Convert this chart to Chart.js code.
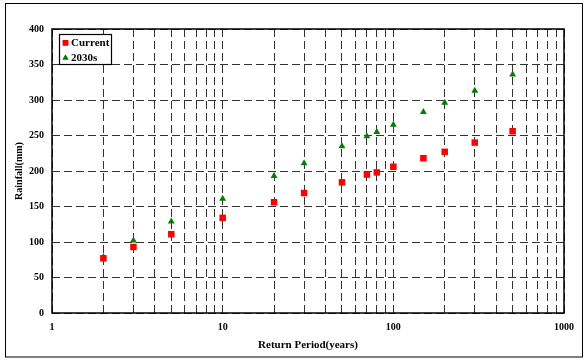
<!DOCTYPE html>
<html>
<head>
<meta charset="utf-8">
<script src="https://cdn.jsdelivr.net/npm/chart.js@4.4.1/dist/chart.umd.min.js"></script>
<style>
html,body{margin:0;padding:0;background:#fff;}
#wrap{width:584px;height:361px;position:relative;}
</style>
</head>
<body>
<div id="wrap"><canvas id="c" width="584" height="361"></canvas></div>
<script>
const returnPeriods = [2, 3, 5, 10, 20, 30, 50, 70, 80, 100, 150, 200, 300, 500];
const currentRain = [77, 93, 111, 134, 156, 169, 184, 195, 198, 206, 218, 227, 240, 256];
const rain2030s = [79, 102, 129, 161, 193, 211, 235, 249, 255, 265, 283, 296, 313, 336];
const seriesNames = ['Current', '2030s'];
const xLabelValues = [1, 10, 100, 1000];
const yTicks = [0, 50, 100, 150, 200, 250, 300, 350, 400];

const serif = "'Liberation Serif','DejaVu Serif',serif";

function pts(xs, ys) { return xs.map((x, i) => ({x: x, y: ys[i]})); }

const framePlugin = {
  id: 'frame',
  afterDraw(chart) {
    const ctx = chart.ctx;
    const a = chart.chartArea;
    ctx.save();
    ctx.strokeStyle = '#000';
    ctx.lineWidth = 1.5;
    ctx.strokeRect(a.left, a.top, a.right - a.left, a.bottom - a.top);
    ctx.lineWidth = 1;
    ctx.strokeRect(5.5, 3.5, 577, 353.5);
    // legend box inside plot area
    const lx = a.left + 7, ly = a.top + 5;
    ctx.fillStyle = '#fff';
    ctx.fillRect(lx, ly, 52, 30);
    ctx.lineWidth = 1.2;
    ctx.strokeRect(lx + 0.5, ly + 0.5, 52, 30);
    ctx.font = "bold 11px " + serif;
    ctx.textBaseline = 'middle';
    ctx.textAlign = 'left';
    chart.data.datasets.forEach((ds, i) => {
      const cy = ly + 8.8 + i * 15;
      const cx = lx + 6.5;
      ctx.fillStyle = ds.backgroundColor;
      Chart.helpers.drawPoint(ctx, {pointStyle: ds.pointStyle, radius: ds.pointRadius * 0.85, rotation: 0, borderWidth: 0}, cx, cy);
      ctx.fill();
      ctx.fillStyle = '#000';
      ctx.fillText(ds.label, lx + 12, cy + 0.5);
    });
    ctx.restore();
  }
};

new Chart(document.getElementById('c'), {
  type: 'scatter',
  data: {
    datasets: [
      {
        label: seriesNames[0],
        data: pts(returnPeriods, currentRain),
        pointStyle: 'rect',
        backgroundColor: '#ff0000',
        borderColor: '#ff0000',
        pointRadius: 4.6,
        borderWidth: 0
      },
      {
        label: seriesNames[1],
        data: pts(returnPeriods, rain2030s),
        pointStyle: 'triangle',
        backgroundColor: '#008000',
        borderColor: '#008000',
        pointRadius: 4,
        borderWidth: 0
      }
    ]
  },
  options: {
    responsive: false,
    animation: false,
    devicePixelRatio: 1,
    layout: {padding: {left: 13, right: 20, top: 29, bottom: 5}},
    plugins: {
      tooltip: {enabled: false},
      legend: {display: false}
    },
    scales: {
      x: {
        type: 'logarithmic',
        min: 1,
        max: 1000,
        afterFit(s) { s.height = 43; },
        afterBuildTicks(s) {
          const t = [];
          for (let d = 1; d < 1000; d *= 10) {
            for (let k = 1; k < 10; k++) t.push({value: d * k});
          }
          t.push({value: 1000});
          s.ticks = t;
        },
        ticks: {
          autoSkip: false,
          maxRotation: 0,
          padding: 8,
          color: '#000',
          font: {family: serif, size: 10, weight: 'bold'},
          callback(v) { return xLabelValues.includes(v) ? String(v) : ''; }
        },
        grid: {color: '#333', lineWidth: 1, drawTicks: false},
        border: {display: false, dash: [8, 4]},
        title: {
          display: true,
          text: 'Return Period(years)',
          color: '#000',
          font: {family: serif, size: 11, weight: 'bold'},
          padding: {top: 0, bottom: 4}
        }
      },
      y: {
        min: 0,
        max: 400,
        afterFit(s) { s.width = 39; },
        afterBuildTicks(s) { s.ticks = yTicks.map(v => ({value: v})); },
        ticks: {
          padding: 8,
          color: '#000',
          font: {family: serif, size: 10, weight: 'bold'}
        },
        grid: {color: '#333', lineWidth: 1, drawTicks: false},
        border: {display: false, dash: [8, 4]},
        title: {
          display: true,
          text: 'Rainfall(mm)',
          color: '#000',
          font: {family: serif, size: 10, weight: 'bold'},
          padding: {top: 0, bottom: 2}
        }
      }
    }
  },
  plugins: [framePlugin]
});
</script>
</body>
</html>
